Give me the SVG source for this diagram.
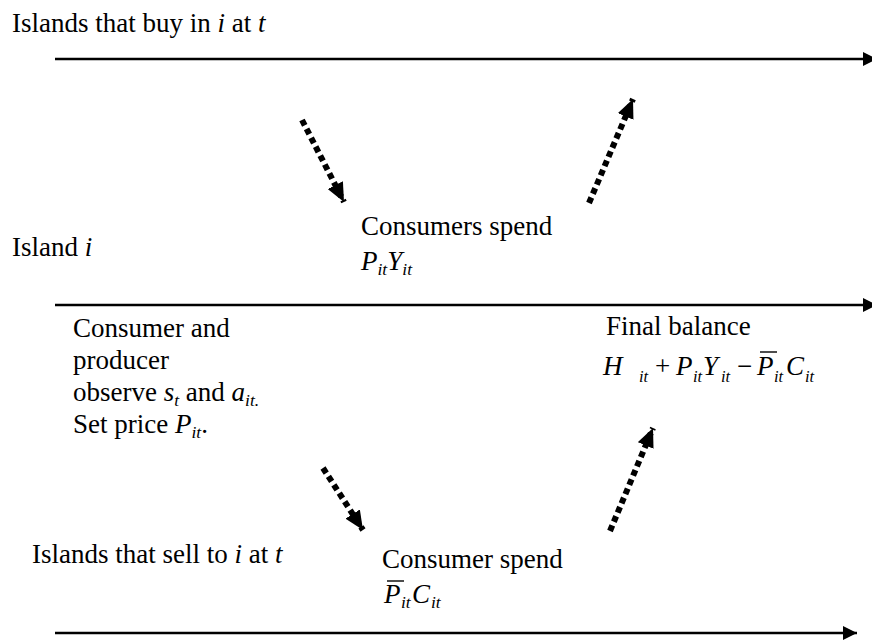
<svg xmlns="http://www.w3.org/2000/svg" width="872" height="641" viewBox="0 0 872 641">
<style>
text{font-family:"Liberation Serif","Times New Roman",serif;font-size:27px;fill:#000}
.i{font-style:italic}
.s{font-size:17.5px;font-style:italic}
.ms{font-size:16.5px;font-style:italic}
.axis{stroke:#000;stroke-width:2.7;fill:none}
.dot{stroke:#000;stroke-width:6;stroke-dasharray:6 4;fill:none}
.bar{stroke:#000;stroke-width:1.4}
</style>
<defs>
<marker id="ah" markerWidth="14" markerHeight="14" refX="14" refY="7" orient="auto" markerUnits="userSpaceOnUse">
<path d="M0,0 L14,7 L0,14 Z" fill="#000"/>
</marker>
<marker id="dh" markerWidth="19" markerHeight="17" refX="19" refY="8.5" orient="auto" markerUnits="userSpaceOnUse">
<path d="M0,0 L19,8.5 L0,17 Z" fill="#000"/>
</marker>
</defs>
<rect width="872" height="641" fill="#fff"/>
<g id="connectors">
<line class="axis" x1="55" y1="59" x2="877" y2="59" marker-end="url(#ah)"/>
<line class="axis" x1="55" y1="305" x2="877" y2="305" marker-end="url(#ah)"/>
<line class="axis" x1="55" y1="633" x2="857" y2="633" marker-end="url(#ah)"/>
<line class="dot" x1="302" y1="120" x2="344" y2="202" marker-end="url(#dh)"/>
<line class="dot" x1="589" y1="203" x2="633" y2="99" marker-end="url(#dh)"/>
<line class="dot" x1="323" y1="468" x2="363" y2="530" marker-end="url(#dh)"/>
<line class="dot" x1="610" y1="531" x2="653" y2="428" marker-end="url(#dh)"/>
</g>
<g id="label-buy">
<text x="12" y="32">Islands that buy in <tspan class="i">i</tspan> at <tspan class="i">t</tspan></text>
</g>
<g id="label-island">
<text x="12" y="256">Island <tspan class="i">i</tspan></text>
</g>
<g id="label-sell">
<text x="32" y="563">Islands that sell to <tspan class="i">i</tspan> at <tspan class="i">t</tspan></text>
</g>
<g id="node-consumers-spend">
<text x="361" y="235">Consumers spend</text>
<text x="361" y="270"><tspan class="i">P</tspan><tspan class="s" dy="5">it</tspan><tspan class="i" dy="-5">Y</tspan><tspan class="s" dy="5">it</tspan></text>
</g>
<g id="node-observe">
<text x="73" y="337">Consumer and</text>
<text x="73" y="369">producer</text>
<text x="73" y="401">observe <tspan class="i">s</tspan><tspan class="s" dy="5">t</tspan><tspan dy="-5"> and </tspan><tspan class="i">a</tspan><tspan class="s" dy="5">it.</tspan></text>
<text x="73" y="433">Set price <tspan class="i">P</tspan><tspan class="s" dy="5">it</tspan><tspan dy="-5">.</tspan></text>
</g>
<g id="node-final-balance">
<text x="606" y="335">Final balance</text>
<text y="375"><tspan class="i" x="603">H</tspan><tspan class="ms" x="639" y="382">it</tspan><tspan x="655" y="375">+</tspan><tspan class="i" x="676">P</tspan><tspan class="ms" x="693" y="382">it</tspan><tspan class="i" x="703" y="375">Y</tspan><tspan class="ms" x="721" y="382">it</tspan><tspan x="737" y="375">−</tspan><tspan class="i" x="757">P</tspan><tspan class="ms" x="774" y="382">it</tspan><tspan class="i" x="786" y="375">C</tspan><tspan class="ms" x="805" y="382">it</tspan></text>
<line class="bar" x1="760" y1="352" x2="777" y2="352"/>
</g>
<g id="node-consumer-spend">
<text x="382" y="568">Consumer spend</text>
<text y="603"><tspan class="i" x="384">P</tspan><tspan class="s" x="401" y="608">it</tspan><tspan class="i" x="412" y="603">C</tspan><tspan class="s" x="431" y="608">it</tspan></text>
<line class="bar" x1="387" y1="581" x2="404" y2="581"/>
</g>
</svg>
